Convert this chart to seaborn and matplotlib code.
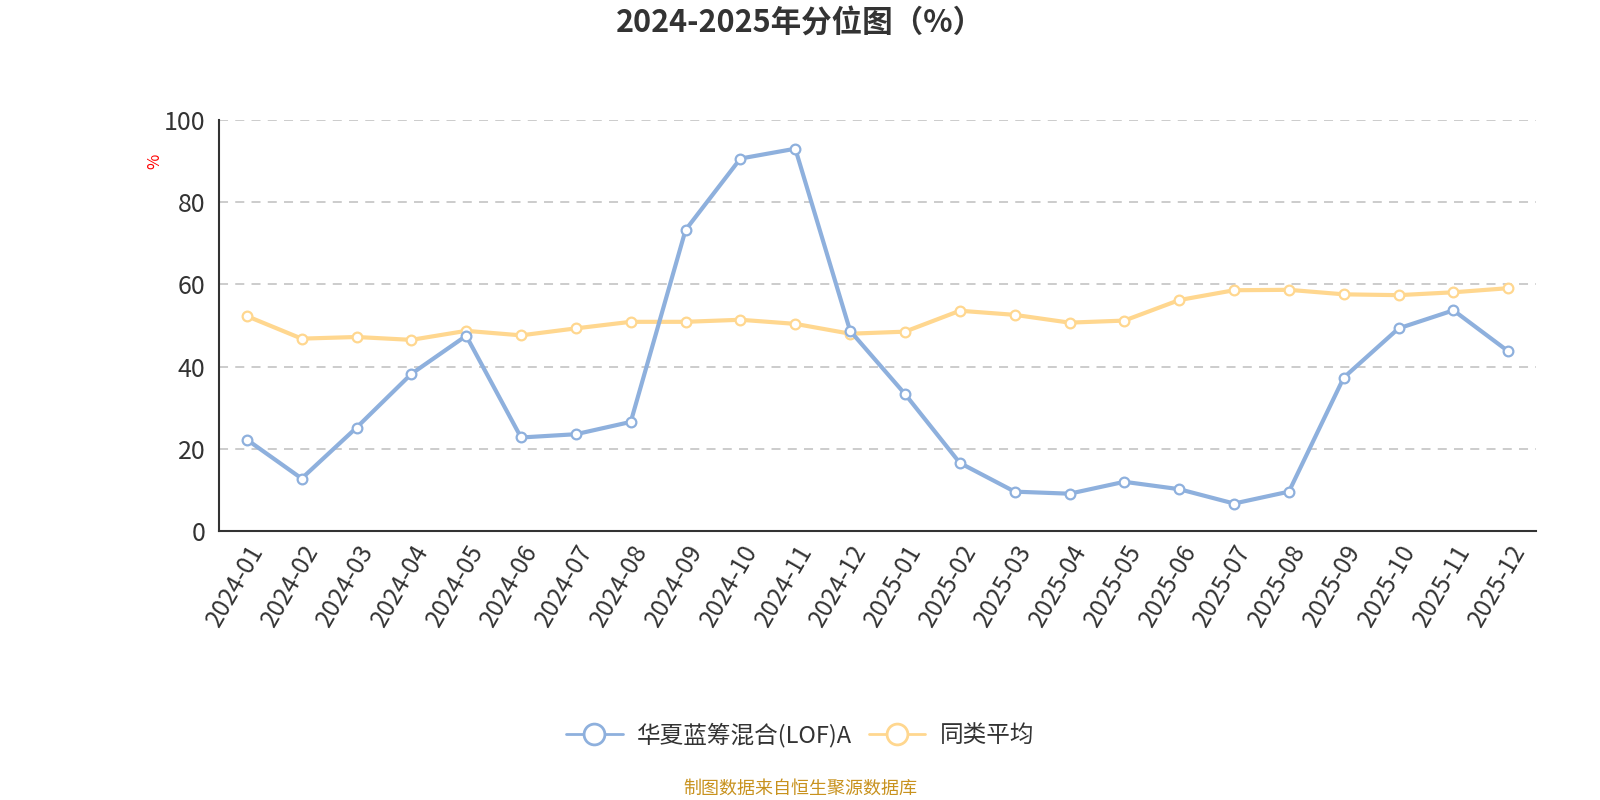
import numpy as np
import pandas as pd
import matplotlib
matplotlib.use("Agg")
import matplotlib.pyplot as plt
import seaborn as sns
from matplotlib.lines import Line2D
from matplotlib.ticker import FixedLocator

months = [
    "2024-01", "2024-02", "2024-03", "2024-04", "2024-05", "2024-06",
    "2024-07", "2024-08", "2024-09", "2024-10", "2024-11", "2024-12",
    "2025-01", "2025-02", "2025-03", "2025-04", "2025-05", "2025-06",
    "2025-07", "2025-08", "2025-09", "2025-10", "2025-11", "2025-12",
]
fund_name = "华夏蓝筹混合(LOF)A"
avg_name = "同类平均"
fund_vals = [
    22.2, 12.7, 25.1, 38.2, 47.5, 22.7, 23.5, 26.5, 73.3, 90.7, 93.1, 48.7,
    33.3, 16.5, 9.5, 9.0, 11.9, 10.1, 6.6, 9.5, 37.3, 49.3, 53.7, 43.7,
]
avg_vals = [
    52.3, 46.8, 47.2, 46.5, 48.7, 47.6, 49.3, 50.9, 50.9, 51.4, 50.4, 48.0,
    48.5, 53.6, 52.6, 50.7, 51.2, 56.2, 58.6, 58.7, 57.6, 57.4, 58.1, 59.1,
]

BLUE = "#8eb0dd"
ORANGE = "#ffd78f"

sns.set_style("white")
plt.rcParams["font.family"] = ["Noto Sans CJK SC", "DejaVu Sans"]

df = pd.DataFrame({
    "month": months * 2,
    "pos": list(range(len(months))) * 2,
    "value": fund_vals + avg_vals,
    "series": [fund_name] * len(months) + [avg_name] * len(months),
})

# reference measured on a 1568x784 view
W, H = 1568, 784
fig = plt.figure(figsize=(16, 8), dpi=100)
ax = fig.add_axes([215 / W, 1 - 520 / H, 1290 / W, 402 / H])

for name, color in [(avg_name, ORANGE), (fund_name, BLUE)]:
    sns.lineplot(
        data=df[df["series"] == name], x="pos", y="value", ax=ax,
        color=color, linewidth=3, marker="o", markersize=7,
        markerfacecolor="white", markeredgecolor=color, markeredgewidth=1.6,
        legend=False, zorder=3 if name == fund_name else 2,
    )

ax.set_xlim(-0.5, len(months) - 0.5)
ax.set_ylim(0, 100)
ax.set_yticks([0, 20, 40, 60, 80, 100])
ax.yaxis.grid(True, linestyle=(0, (5, 4)), color="#c8c8c8", linewidth=1.3)
ax.set_axisbelow(True)

ax.set_xticks(range(len(months)))
ax.set_xticklabels(months, rotation=60, ha="right", rotation_mode="anchor",
                   fontsize=17.5, color="#333333")
ax.xaxis.set_minor_locator(FixedLocator(np.arange(-0.5, len(months), 1.0)))
ax.tick_params(axis="x", which="major", length=0, pad=7)
ax.tick_params(axis="x", which="minor", length=6, width=1.3, color="#333333")
ax.tick_params(axis="y", length=6, width=1.3, color="#333333",
               labelsize=18, labelcolor="#333333", pad=4)

for side in ["top", "right"]:
    ax.spines[side].set_visible(False)
for side in ["left", "bottom"]:
    ax.spines[side].set_color("#333333")
    ax.spines[side].set_linewidth(1.5)

ax.set_xlabel("")
ax.set_ylabel("")
fig.text(152 / W, 1 - 158 / H, "%", color="red", fontsize=12,
         rotation=90, ha="center", va="center")

fig.suptitle("2024-2025年分位图（%）", y=1 - 22 / H, va="center",
             fontsize=22, fontweight="bold", color="#333333")

handles = [
    Line2D([0], [0], color=BLUE, linewidth=2, marker="o", markersize=15,
           markerfacecolor="white", markeredgecolor=BLUE, markeredgewidth=2),
    Line2D([0], [0], color=ORANGE, linewidth=2, marker="o", markersize=15,
           markerfacecolor="white", markeredgecolor=ORANGE, markeredgewidth=2),
]
fig.legend(handles, [fund_name, avg_name], loc="center",
           bbox_to_anchor=(0.5, 1 - 720 / H), ncol=2, frameon=False,
           fontsize=17, handlelength=2.4, handletextpad=0.6,
           columnspacing=0.7, labelcolor="#333333")

fig.text(0.5, 1 - 773 / H, "制图数据来自恒生聚源数据库", ha="center",
         va="center", fontsize=13, color="#c8921e")

fig.savefig("out.png", dpi=100)
